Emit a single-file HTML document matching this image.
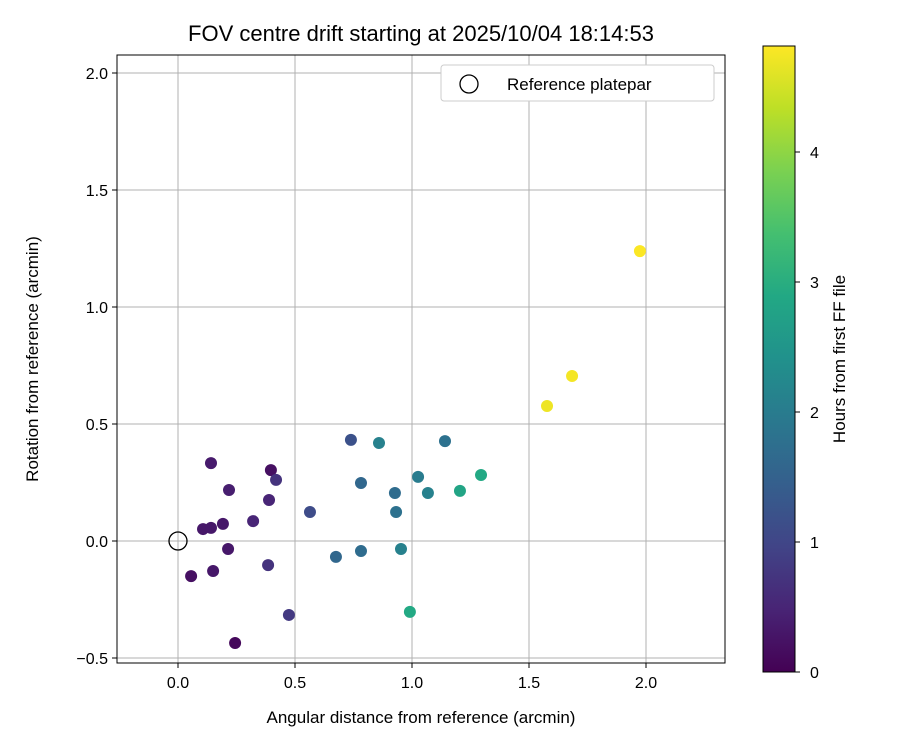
<!DOCTYPE html>
<html><head><meta charset="utf-8"><style>
body{margin:0;background:#fff}
svg{font-family:"Liberation Sans","DejaVu Sans",sans-serif}
</style></head><body>
<svg id="c" width="900" height="750" viewBox="0 0 900 750">
<defs>
<linearGradient id="vir" x1="0" y1="1" x2="0" y2="0">
<stop offset="0" stop-color="#440154"/><stop offset="0.1" stop-color="#482475"/><stop offset="0.2" stop-color="#414487"/><stop offset="0.3" stop-color="#355f8d"/><stop offset="0.4" stop-color="#2a788e"/><stop offset="0.5" stop-color="#21918c"/><stop offset="0.6" stop-color="#22a884"/><stop offset="0.7" stop-color="#44bf70"/><stop offset="0.8" stop-color="#7ad151"/><stop offset="0.9" stop-color="#bddf26"/><stop offset="1" stop-color="#fde725"/>
</linearGradient>
</defs>
<g id="grid"></g>
<g id="pts"></g>
<rect x="117" y="55" width="608" height="608" fill="none" stroke="#000" stroke-width="1"/>
<g id="ticks"></g>
<text x="421" y="41" font-size="22" text-anchor="middle">FOV centre drift starting at 2025/10/04 18:14:53</text>
<text x="421" y="723" font-size="17" text-anchor="middle">Angular distance from reference (arcmin)</text>
<text transform="translate(38,359) rotate(-90)" font-size="17" text-anchor="middle">Rotation from reference (arcmin)</text>
<g>
<rect x="441" y="65" width="273" height="36" rx="3" fill="#fff" stroke="#ccc"/>
<circle cx="469" cy="84" r="9" fill="none" stroke="#000" stroke-width="1.3"/>
<text x="507" y="90" font-size="17">Reference platepar</text>
</g>
<rect x="763" y="46" width="32" height="626" fill="url(#vir)" stroke="#000" stroke-width="1"/>
<g id="cbt"></g>
<text transform="translate(845,359) rotate(-90)" font-size="17" text-anchor="middle">Hours from first FF file</text>
</svg>
<script>
const xVals=[0.056,0.107,0.141,0.141,0.150,0.192,0.214,0.218,0.244,0.321,0.385,0.389,0.397,0.419,0.474,0.564,0.675,0.739,0.782,0.782,0.859,0.927,0.932,0.953,0.991,1.026,1.068,1.141,1.205,1.295,1.577,1.684,1.974];
const yVals=[-0.150,0.051,0.056,0.333,-0.128,0.073,-0.034,0.218,-0.436,0.085,-0.103,0.175,0.303,0.261,-0.316,0.124,-0.068,0.432,-0.043,0.248,0.419,0.205,0.124,-0.034,-0.303,0.274,0.205,0.427,0.214,0.282,0.577,0.705,1.239];
const hours=[0.2,0.3,0.3,0.35,0.3,0.3,0.3,0.4,0.1,0.5,0.7,0.5,0.2,0.7,0.8,1.1,1.6,1.2,1.7,1.6,2.1,1.7,1.8,2.1,2.9,2.0,2.1,1.8,2.8,2.9,4.7,4.75,4.8];
const xTicks=[0,0.5,1,1.5,2];
const yTicks=[-0.5,0,0.5,1,1.5,2];
const cTicks=[0,1,2,3,4];
const NS="http://www.w3.org/2000/svg";
const X=v=>178+v*234, Y=v=>541-v*234, C=h=>672-h*130;
const vir=["#440154","#482475","#414487","#355f8d","#2a788e","#21918c","#22a884","#44bf70","#7ad151","#bddf26","#fde725"];
function col(h){let t=Math.max(0,Math.min(1,h/4.815))*10;let i=Math.min(9,Math.floor(t)),f=t-i;
const a=vir[i],b=vir[i+1];const p=(s,k)=>parseInt(s.substr(1+2*k,2),16);
return "rgb("+[0,1,2].map(k=>Math.round(p(a,k)+(p(b,k)-p(a,k))*f)).join(",")+")";}
function el(t,at,par){const e=document.createElementNS(NS,t);for(const k in at)e.setAttribute(k,at[k]);document.getElementById(par).appendChild(e);return e;}
const fmt=v=>v<0?"\u2212"+Math.abs(v).toFixed(1):v.toFixed(1);
xTicks.forEach(v=>{const x=X(v);
const g=el("line",{x1:x,x2:x,y1:55,y2:663,stroke:"#b0b0b0","stroke-width":1},"grid");


el("line",{x1:x,x2:x,y1:663,y2:668,stroke:"#000"},"ticks");
const t=el("text",{x:x,y:688,"font-size":16,"text-anchor":"middle"},"ticks");t.textContent=fmt(v);

});
yTicks.forEach(v=>{const y=Y(v);
const g=el("line",{x1:117,x2:725,y1:y,y2:y,stroke:"#b0b0b0","stroke-width":1},"grid");


el("line",{x1:112,x2:117,y1:y,y2:y,stroke:"#000"},"ticks");
const t=el("text",{x:108,y:y+6,"font-size":16,"text-anchor":"end"},"ticks");t.textContent=fmt(v);

});
cTicks.forEach(v=>{const y=C(v);
el("line",{x1:795,x2:800,y1:y,y2:y,stroke:"#000"},"cbt");
const t=el("text",{x:810,y:y+6,"font-size":16},"cbt");t.textContent=v;

});
xVals.forEach((v,i)=>{const c=el("circle",{cx:X(v),cy:Y(yVals[i]),r:6,fill:col(hours[i])},"pts");

});
const r=el("circle",{cx:X(0),cy:Y(0),r:9,fill:"none",stroke:"#000","stroke-width":1.3},"pts");


</script>
</body></html>
